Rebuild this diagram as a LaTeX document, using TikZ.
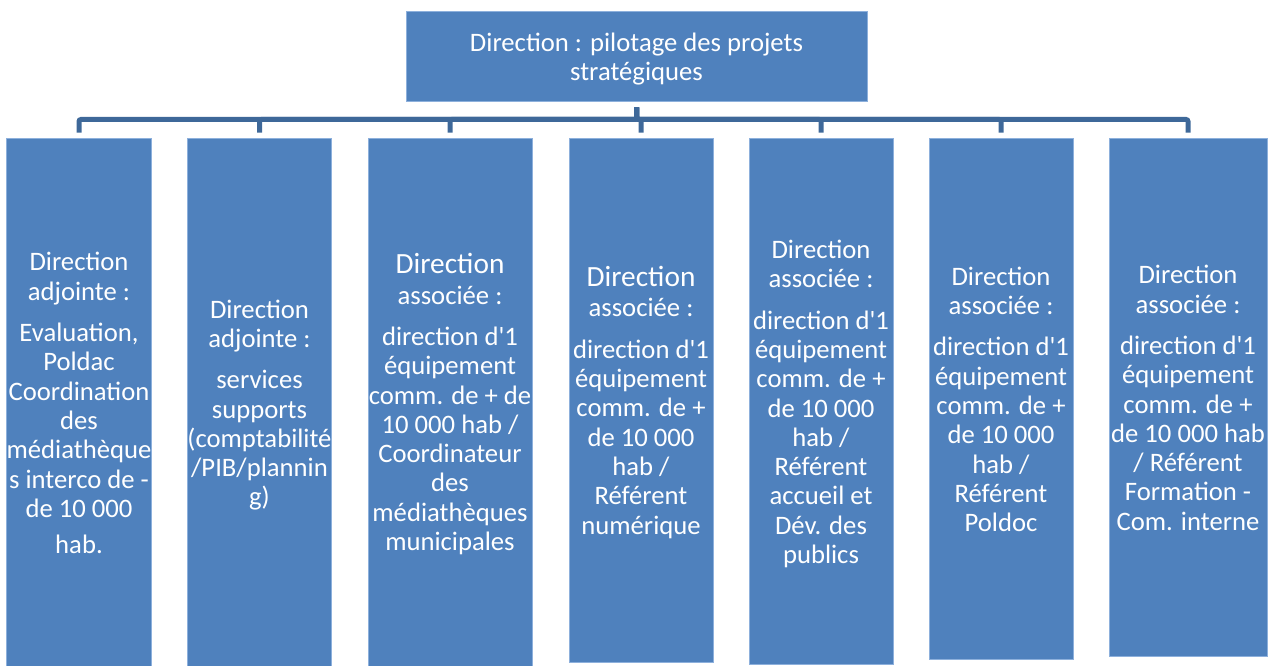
\documentclass[tikz,border=0pt]{standalone}
\usepackage{fontspec}
\setmainfont{Carlito}[Ligatures=TeXOff]
\definecolor{boxblue}{HTML}{4F81BD}
\definecolor{edgeblue}{HTML}{8DB0DC}
\definecolor{linkblue}{HTML}{3E6899}
\newcommand{\bigdir}{{\fontsize{22}{24}\selectfont Direction}}
\newcommand{\topstrut}{\rule{0pt}{21.6pt}}
\begin{document}
\begin{tikzpicture}[x=0.75pt,y=-0.75pt,
  box/.style={draw=edgeblue,line width=0.6pt,fill=boxblue,text=white,
    inner sep=0pt,align=center,font=\fontsize{20}{22}\selectfont},
  link/.style={draw=linkblue,line width=3.75pt,rounded corners=1.5pt}]
\useasboundingbox (0,0) rectangle (1275,666);
\node[box,minimum width=345.75pt,minimum height=67.5pt] (top) at (636.5,56)
  {\topstrut Direction : pilotage des projets\\stratégiques\strut};
\node[box,minimum width=108pt,minimum height=396pt] (b1) at (79,402)
  {\topstrut Direction\\adjointe :\\[9pt]Evaluation,\\Poldac\\Coordination\\des\\médiathèque\\s interco de -\\de 10 000\\[5pt]hab.\strut};
\node[box,minimum width=107.25pt,minimum height=396pt] (b2) at (259.5,402)
  {\topstrut Direction\\adjointe :\\[9pt]services\\supports\\(comptabilité\\/PIB/plannin\\g)\strut};
\node[box,minimum width=123pt,minimum height=396pt] (b3) at (450,402)
  {\topstrut\bigdir\\[1pt]associée :\\[9pt]direction d'1\\équipement\\comm. de + de\\10 000 hab /\\Coordinateur\\des\\médiathèques\\municipales\strut};
\node[box,minimum width=108pt,minimum height=393pt] (b4) at (641,400)
  {\topstrut\bigdir\\[1pt]associée :\\[9pt]direction d'1\\équipement\\comm. de +\\de 10 000\\hab /\\Référent\\numérique\strut};
\node[box,minimum width=108pt,minimum height=394.5pt] (b5) at (821,401)
  {\topstrut Direction\\associée :\\[9pt]direction d'1\\équipement\\comm. de +\\de 10 000\\hab /\\Référent\\accueil et\\Dév. des\\publics\strut};
\node[box,minimum width=108pt,minimum height=390.75pt] (b6) at (1001,398.5)
  {\topstrut Direction\\associée :\\[9pt]direction d'1\\équipement\\comm. de +\\de 10 000\\hab /\\Référent\\Poldoc\strut};
\node[box,minimum width=118.5pt,minimum height=388.5pt] (b7) at (1188,397)
  {\topstrut Direction\\associée :\\[9pt]direction d'1\\équipement\\comm. de +\\de 10 000 hab\\/ Référent\\Formation -\\Com. interne\strut};
\coordinate (hub) at (637,119.5);
\foreach \b in {b1,b2,b3,b4,b5,b6,b7}
  \draw[link] ([yshift=-4.5pt]top.south) -- (top.south |- hub) -| ([yshift=3.75pt]\b.north);
\end{tikzpicture}
\end{document}
